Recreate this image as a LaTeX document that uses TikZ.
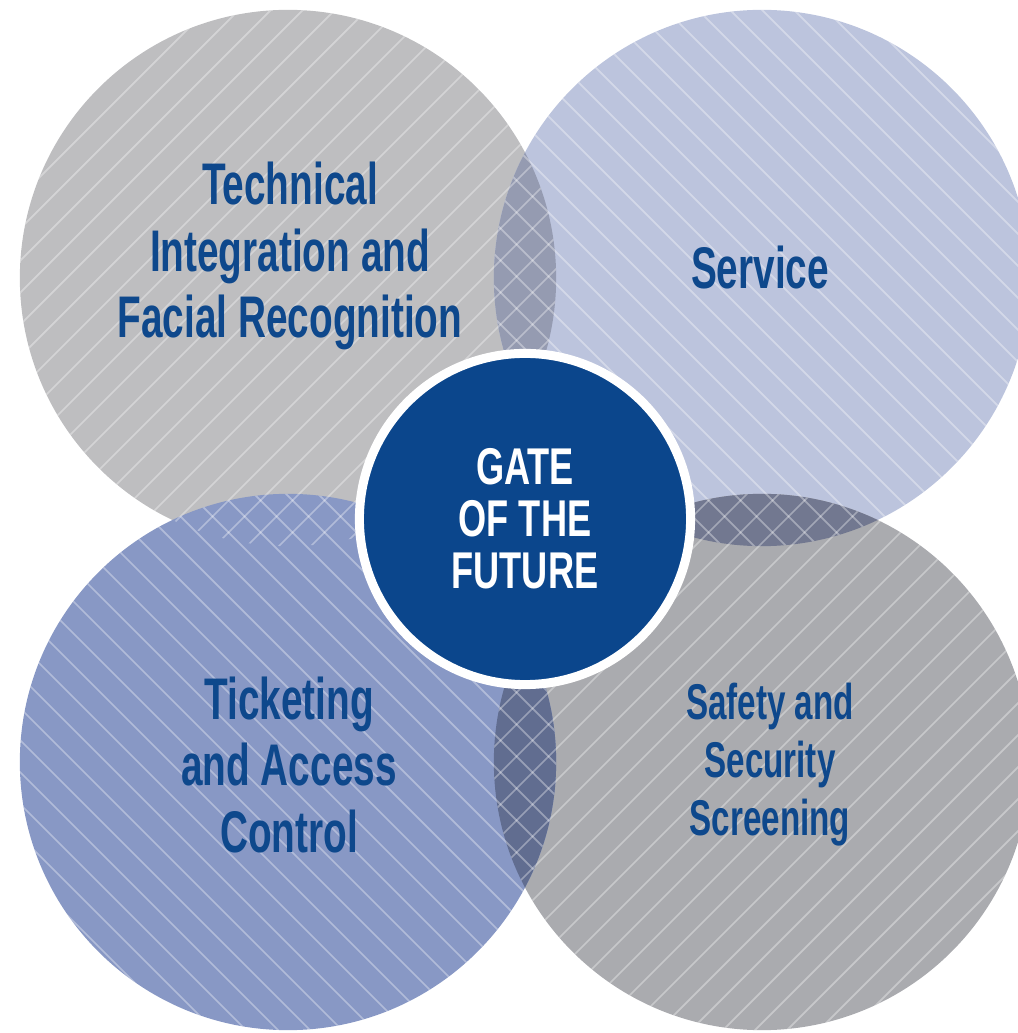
\documentclass[tikz,border=0pt]{standalone}
\usepackage{fontspec}
\usepackage{tikz}
\newfontfamily\condfont[FakeStretch=0.66]{Liberation Sans}
\newfontfamily\gatefont[FakeStretch=0.70]{Liberation Sans}
\definecolor{gatetext}{RGB}{14,72,140}
\definecolor{gateblue}{RGB}{11,70,140}
\definecolor{greyA}{RGB}{190,190,192}
\definecolor{greyB}{RGB}{170,171,175}
\definecolor{paleblue}{RGB}{188,196,221}
\definecolor{midblue}{RGB}{136,152,197}
\definecolor{lensTop}{RGB}{149,155,177}
\definecolor{lensRight}{RGB}{114,120,144}
\definecolor{lensBottom}{RGB}{97,109,144}
\tikzset{
  stripe/.style={white, opacity=0.35, line width=0.5pt},
  topic/.style={text=gatetext, align=center, inner sep=0pt,
    font=\condfont\bfseries\fontsize{16.7}{19}\selectfont},
}

\begin{document}
\begin{tikzpicture}[x=0.01cm,y=0.01cm]
\useasboundingbox (0,0) rectangle (1018,1033);
\clip (0,0) rectangle (1018,1033);
%% circle centres
\coordinate (tl) at (288,755);
\coordinate (tr) at (762,755);
\coordinate (bl) at (288,271);
\coordinate (br) at (762,271);
%% discs
\fill[greyA] (tl) circle (2.68cm);
\fill[paleblue] (tr) circle (2.68cm);
\fill[greyB] (br) circle (2.68cm);
\fill[midblue] (bl) circle (2.68cm);
%% overlaps
\begin{scope}
  \clip (tl) circle (2.68cm);
  \fill[lensTop] (tr) circle (2.68cm);
\end{scope}
\begin{scope}
  \clip (tr) circle (2.68cm);
  \fill[lensRight] (br) circle (2.68cm);
\end{scope}
\begin{scope}
  \clip (bl) circle (2.68cm);
  \fill[lensBottom] (br) circle (2.68cm);
\end{scope}
%%% stripes
\begin{scope}
  \clip (tl) circle (2.68cm);
  \foreach \k in {-1040,-1008,...,1018} \draw[stripe] (\k,0) -- ++(1033,1033);
\end{scope}
\begin{scope}
  \clip (br) circle (2.68cm);
  \foreach \k in {-1040,-1008,...,1018} \draw[stripe] (\k,0) -- ++(1033,1033);
\end{scope}
\begin{scope}
  \clip (tr) circle (2.68cm);
  \foreach \k in {-1040,-1008,...,1018} \draw[stripe] (\k,1033) -- ++(1033,-1033);
\end{scope}
\begin{scope}
  \clip (bl) circle (2.68cm);
  \foreach \k in {-1040,-1008,...,1018} \draw[stripe] (\k,1033) -- ++(1033,-1033);
\end{scope}
%% labels
\node[topic] (tech) at (290,777) {Technical\\Integration and\\Facial Recognition};
\node[topic] (service) at (760,765) {Service};
\node[topic] (ticket) at (289,268) {Ticketing\\and Access\\Control};
\node[topic, font=\condfont\bfseries\fontsize{14.3}{16.5}\selectfont] (safety) at (770,268) {Safety and\\Security\\Screening};
%% centre
\node[circle, minimum size=3.31cm, inner sep=0pt, fill=gateblue, draw=white,
  line width=0.09cm, text=white, align=center,
  font=\gatefont\bfseries\fontsize{14.7}{14.8}\selectfont] (gate) at (525,514)
  {GATE\\OF THE\\FUTURE};
\end{tikzpicture}
\end{document}
